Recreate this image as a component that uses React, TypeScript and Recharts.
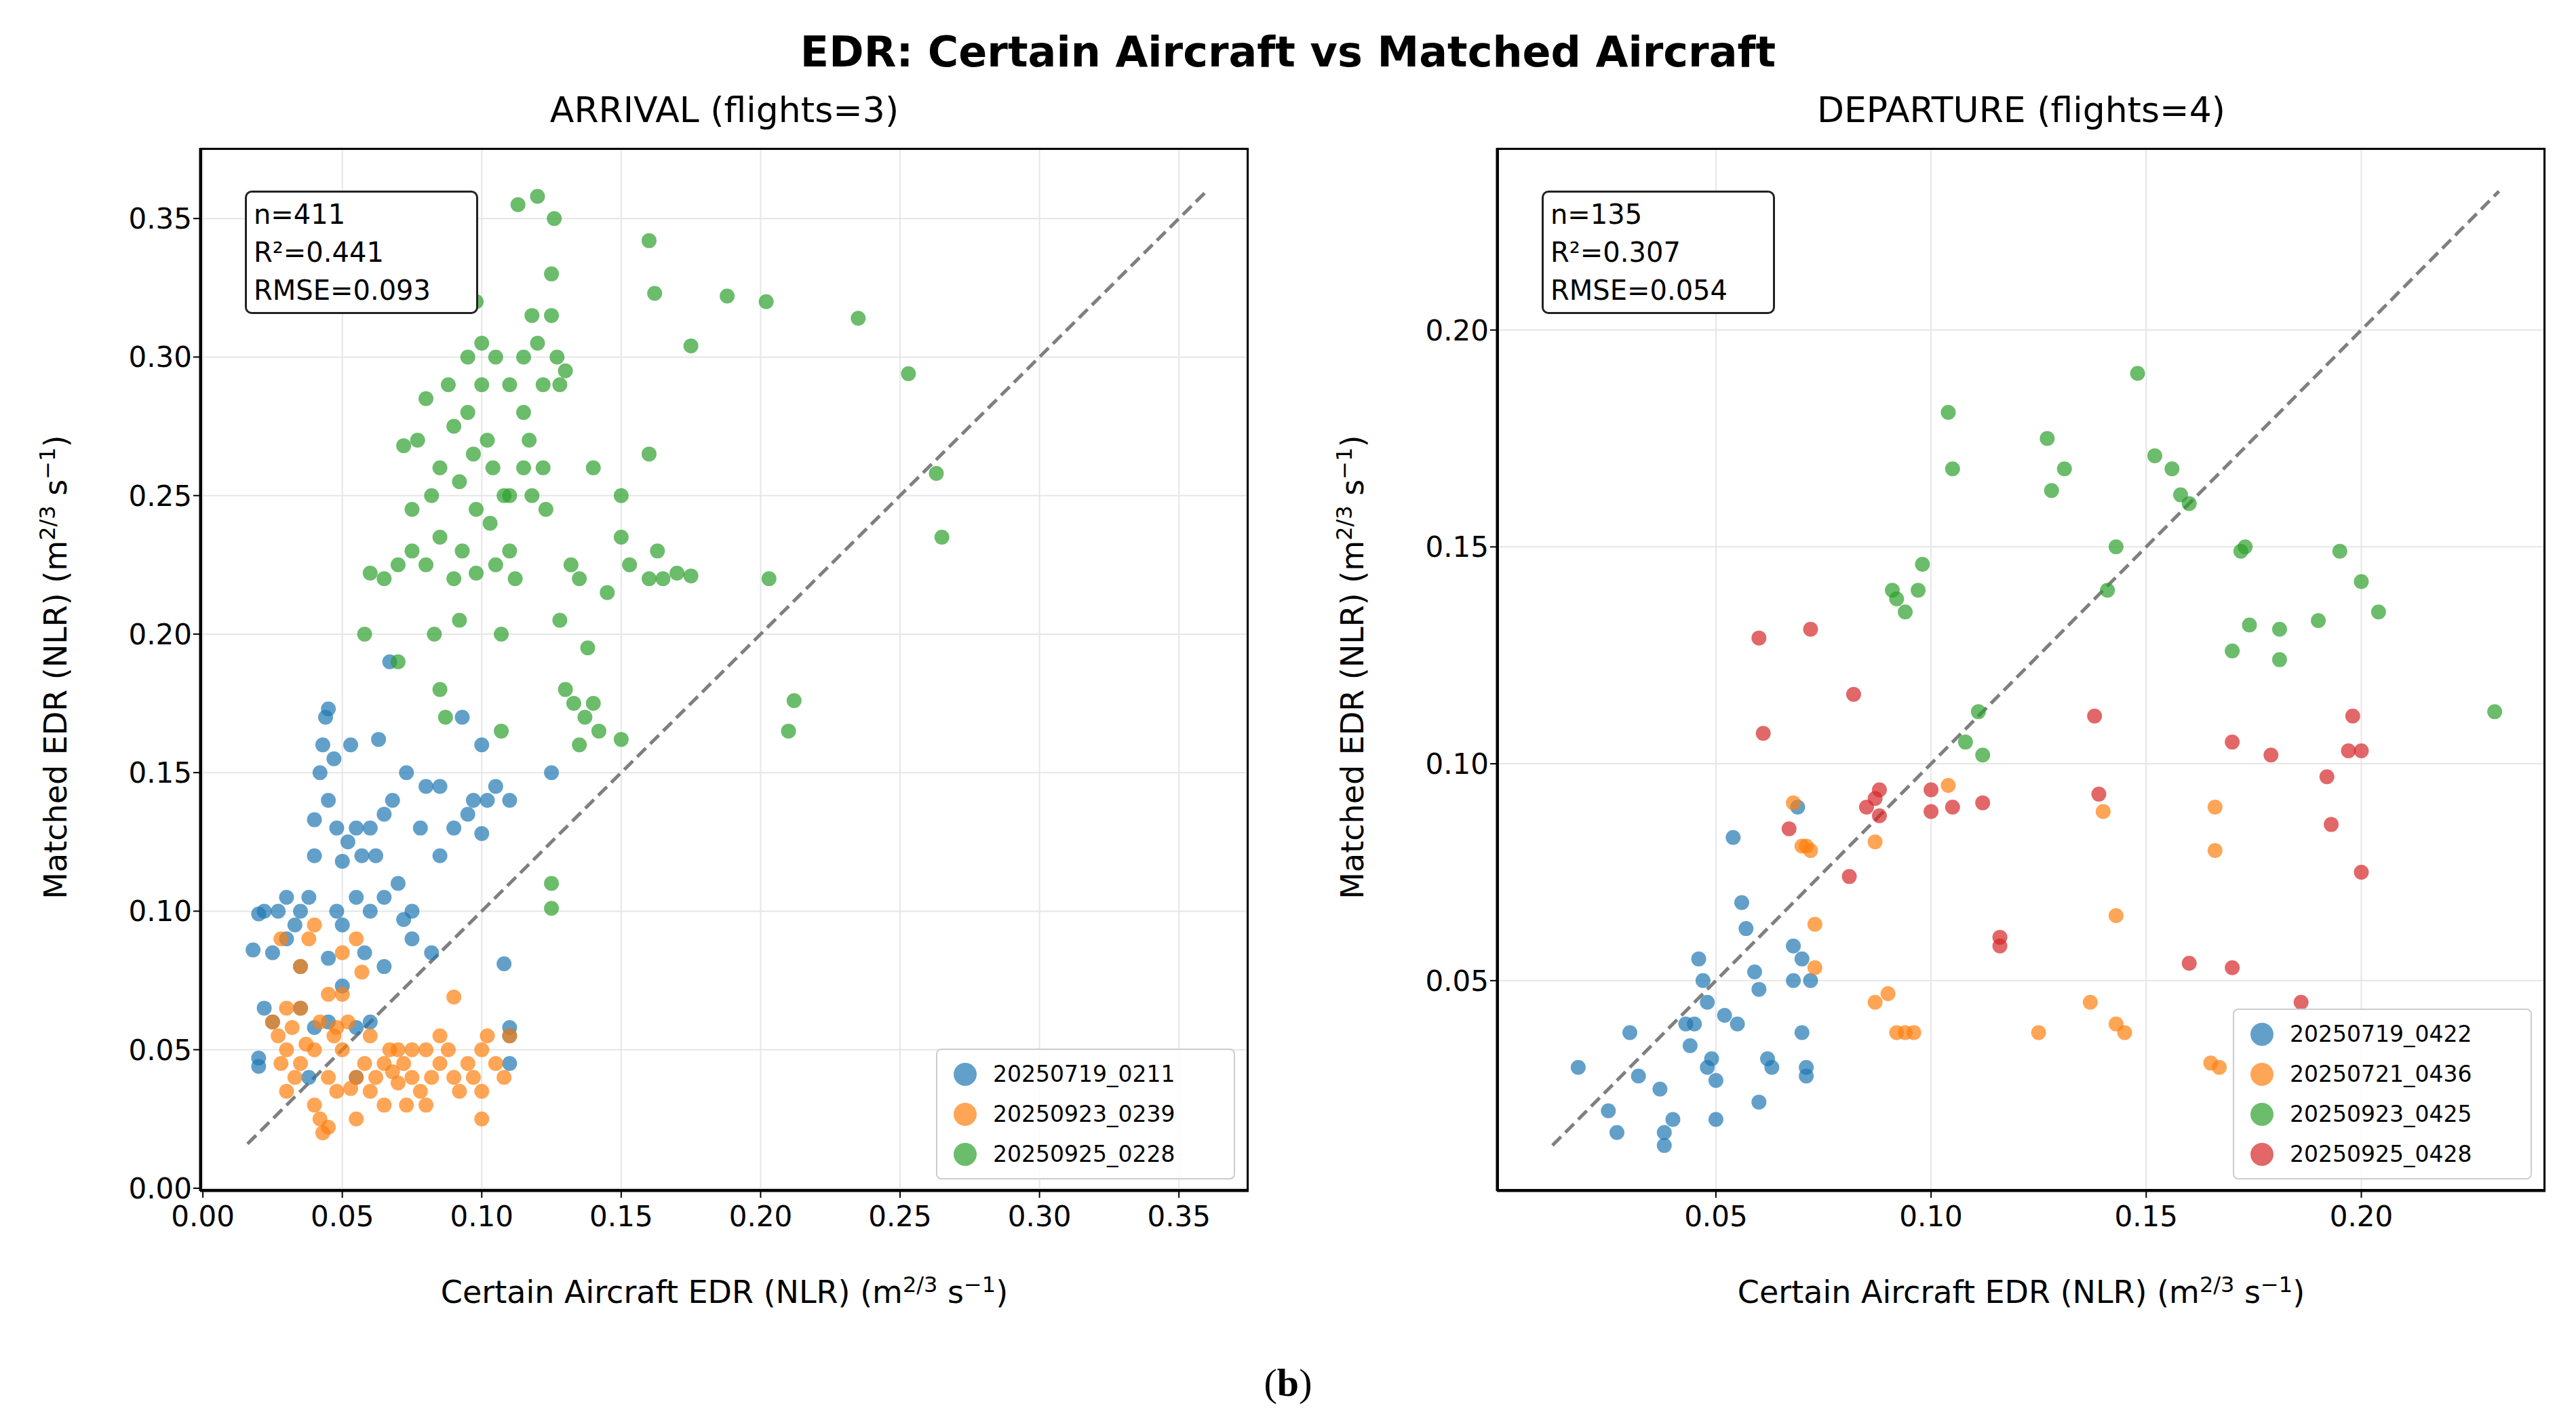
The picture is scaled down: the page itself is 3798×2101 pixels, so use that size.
import React from "react";
import { ScatterChart, Scatter, XAxis, YAxis, CartesianGrid, ReferenceLine } from "recharts";

type P = [number, number];

const arrBlue: P[] = [[0.02,0.099],[0.022,0.1],[0.018,0.086],[0.02,0.047],[0.02,0.044],[0.022,0.065],[0.025,0.06],[0.025,0.085],[0.027,0.1],[0.03,0.105],[0.03,0.09],[0.033,0.095],[0.035,0.1],[0.035,0.08],[0.038,0.105],[0.04,0.12],[0.04,0.133],[0.042,0.15],[0.043,0.16],[0.044,0.17],[0.045,0.173],[0.045,0.14],[0.047,0.155],[0.048,0.13],[0.048,0.1],[0.05,0.118],[0.05,0.095],[0.052,0.125],[0.053,0.16],[0.055,0.13],[0.055,0.105],[0.057,0.12],[0.058,0.085],[0.06,0.13],[0.06,0.1],[0.062,0.12],[0.063,0.162],[0.065,0.135],[0.065,0.105],[0.067,0.19],[0.068,0.14],[0.07,0.11],[0.072,0.097],[0.073,0.15],[0.075,0.1],[0.078,0.13],[0.08,0.145],[0.082,0.085],[0.085,0.145],[0.085,0.12],[0.09,0.13],[0.093,0.17],[0.095,0.135],[0.097,0.14],[0.1,0.16],[0.1,0.128],[0.102,0.14],[0.105,0.145],[0.108,0.081],[0.11,0.14],[0.11,0.058],[0.11,0.055],[0.11,0.045],[0.125,0.15],[0.06,0.06],[0.055,0.058],[0.045,0.083],[0.05,0.073],[0.035,0.065],[0.04,0.058],[0.065,0.08],[0.075,0.09],[0.045,0.06],[0.038,0.04],[0.055,0.04]];
const arrOrange: P[] = [[0.025,0.06],[0.027,0.055],[0.028,0.045],[0.03,0.05],[0.03,0.065],[0.03,0.035],[0.032,0.058],[0.033,0.04],[0.035,0.045],[0.035,0.065],[0.037,0.052],[0.04,0.03],[0.04,0.05],[0.042,0.025],[0.043,0.02],[0.045,0.022],[0.045,0.04],[0.047,0.055],[0.048,0.035],[0.05,0.07],[0.05,0.05],[0.052,0.06],[0.053,0.036],[0.055,0.09],[0.055,0.04],[0.057,0.078],[0.058,0.045],[0.06,0.035],[0.06,0.055],[0.062,0.04],[0.065,0.045],[0.067,0.05],[0.07,0.038],[0.07,0.05],[0.072,0.045],[0.075,0.05],[0.075,0.04],[0.078,0.035],[0.08,0.05],[0.082,0.04],[0.085,0.045],[0.085,0.055],[0.088,0.05],[0.09,0.069],[0.09,0.04],[0.092,0.035],[0.095,0.045],[0.097,0.04],[0.1,0.05],[0.1,0.035],[0.102,0.055],[0.105,0.045],[0.108,0.04],[0.11,0.055],[0.035,0.08],[0.038,0.09],[0.04,0.095],[0.045,0.07],[0.028,0.09],[0.05,0.085],[0.065,0.03],[0.055,0.025],[0.08,0.03],[0.1,0.025],[0.042,0.06],[0.048,0.058],[0.068,0.042],[0.073,0.03]];
const arrGreen: P[] = [[0.07,0.19],[0.058,0.2],[0.065,0.22],[0.07,0.225],[0.075,0.23],[0.075,0.245],[0.072,0.268],[0.077,0.27],[0.08,0.285],[0.082,0.25],[0.085,0.26],[0.085,0.235],[0.083,0.2],[0.085,0.18],[0.087,0.17],[0.088,0.29],[0.09,0.275],[0.092,0.255],[0.093,0.23],[0.095,0.3],[0.095,0.28],[0.097,0.265],[0.098,0.245],[0.1,0.305],[0.1,0.29],[0.102,0.27],[0.103,0.24],[0.104,0.26],[0.105,0.3],[0.105,0.225],[0.107,0.2],[0.107,0.165],[0.108,0.25],[0.11,0.29],[0.11,0.23],[0.112,0.22],[0.113,0.355],[0.115,0.3],[0.115,0.28],[0.117,0.27],[0.118,0.25],[0.12,0.358],[0.12,0.305],[0.122,0.29],[0.122,0.26],[0.123,0.245],[0.125,0.33],[0.125,0.315],[0.126,0.35],[0.127,0.3],[0.128,0.29],[0.128,0.205],[0.13,0.18],[0.132,0.225],[0.133,0.175],[0.135,0.16],[0.135,0.22],[0.137,0.17],[0.138,0.195],[0.14,0.26],[0.14,0.175],[0.142,0.165],[0.145,0.215],[0.15,0.25],[0.15,0.235],[0.15,0.162],[0.153,0.225],[0.16,0.342],[0.16,0.265],[0.16,0.22],[0.162,0.323],[0.163,0.23],[0.165,0.22],[0.17,0.222],[0.175,0.221],[0.175,0.304],[0.188,0.322],[0.202,0.32],[0.203,0.22],[0.21,0.165],[0.212,0.176],[0.235,0.314],[0.253,0.294],[0.263,0.258],[0.265,0.235],[0.125,0.11],[0.125,0.101],[0.098,0.222],[0.08,0.225],[0.092,0.205],[0.09,0.22],[0.06,0.222],[0.11,0.25],[0.115,0.26],[0.13,0.295],[0.118,0.315],[0.098,0.32]];

const depBlue: P[] = [[0.018,0.03],[0.025,0.02],[0.027,0.015],[0.03,0.038],[0.032,0.028],[0.037,0.025],[0.038,0.015],[0.038,0.012],[0.04,0.018],[0.045,0.04],[0.046,0.055],[0.047,0.05],[0.048,0.045],[0.049,0.032],[0.05,0.027],[0.05,0.018],[0.052,0.042],[0.054,0.083],[0.056,0.068],[0.057,0.062],[0.059,0.052],[0.06,0.048],[0.06,0.022],[0.062,0.032],[0.063,0.03],[0.068,0.058],[0.068,0.05],[0.069,0.09],[0.07,0.055],[0.07,0.038],[0.071,0.03],[0.071,0.028],[0.072,0.05],[0.044,0.035],[0.043,0.04],[0.055,0.04],[0.048,0.03]];
const depOrange: P[] = [[0.068,0.091],[0.07,0.081],[0.072,0.08],[0.073,0.063],[0.073,0.053],[0.087,0.082],[0.087,0.045],[0.09,0.047],[0.092,0.038],[0.094,0.038],[0.096,0.038],[0.104,0.095],[0.125,0.038],[0.137,0.045],[0.14,0.089],[0.143,0.065],[0.143,0.04],[0.145,0.038],[0.166,0.09],[0.166,0.08],[0.165,0.031],[0.167,0.03],[0.071,0.081]];
const depGreen: P[] = [[0.091,0.14],[0.092,0.138],[0.094,0.135],[0.097,0.14],[0.098,0.146],[0.104,0.181],[0.105,0.168],[0.108,0.105],[0.111,0.112],[0.112,0.102],[0.127,0.175],[0.128,0.163],[0.131,0.168],[0.141,0.14],[0.143,0.15],[0.148,0.19],[0.152,0.171],[0.156,0.168],[0.158,0.162],[0.16,0.16],[0.17,0.126],[0.172,0.149],[0.173,0.15],[0.174,0.132],[0.181,0.131],[0.181,0.124],[0.19,0.133],[0.195,0.149],[0.2,0.142],[0.204,0.135],[0.231,0.112]];
const depRed: P[] = [[0.06,0.129],[0.061,0.107],[0.067,0.085],[0.072,0.131],[0.081,0.074],[0.082,0.116],[0.085,0.09],[0.087,0.092],[0.088,0.094],[0.088,0.088],[0.1,0.094],[0.1,0.089],[0.105,0.09],[0.112,0.091],[0.116,0.06],[0.116,0.058],[0.138,0.111],[0.139,0.093],[0.16,0.054],[0.17,0.053],[0.17,0.105],[0.179,0.102],[0.186,0.045],[0.192,0.097],[0.193,0.086],[0.197,0.103],[0.198,0.111],[0.2,0.103],[0.2,0.075]];

const arrTicks = [0, 0.05, 0.1, 0.15, 0.2, 0.25, 0.3, 0.35];
const depTicks = [0.05, 0.1, 0.15, 0.2];
const arrNames = ["20250719_0211", "20250923_0239", "20250925_0228"];
const depNames = ["20250719_0422", "20250721_0436", "20250923_0425", "20250925_0428"];
const COLORS = ["#1f77b4", "#ff7f0e", "#2ca02c", "#d62728"];

const FONT = "DejaVu Sans, sans-serif";
const toObj = (a: P[]) => a.map(([x, y]) => ({ x, y }));
const dot = (color: string) => (p: any) => (
  <circle cx={p.cx} cy={p.cy} r={11} fill={color} fillOpacity={0.7} stroke="none" />
);

function Panel({ left, series, names, ticks, domain, diag }: any) {
  const W = 1900, H = 1900;
  return (
    <div style={{ position: "absolute", left, top: 0 }}>
      <ScatterChart width={W} height={H} margin={{ top: 218, left: 165, right: 59, bottom: 84 }}>
        <CartesianGrid stroke="#e6e6e6" strokeWidth={2} />
        <XAxis type="number" dataKey="x" domain={domain.x} ticks={ticks.x} allowDataOverflow height={60}
          tickFormatter={(v: number) => v.toFixed(2)} tick={{ fill: "#000", fontSize: 42, fontFamily: FONT, dy: 10 }}
          tickSize={10} tickLine={{ stroke: "#000", strokeWidth: 2 }} axisLine={{ stroke: "#000", strokeWidth: 3 }} />
        <YAxis type="number" dataKey="y" domain={domain.y} ticks={ticks.y} allowDataOverflow width={130}
          tickFormatter={(v: number) => v.toFixed(2)} tick={{ fill: "#000", fontSize: 42, fontFamily: FONT }}
          tickSize={10} tickLine={{ stroke: "#000", strokeWidth: 2 }} axisLine={{ stroke: "#000", strokeWidth: 3 }} />
        {series.map((s: P[], i: number) => (
          <Scatter key={i} data={toObj(s)} shape={dot(COLORS[i])} isAnimationActive={false} />
        ))}
        <ReferenceLine segment={[{ x: diag[0], y: diag[0] }, { x: diag[1], y: diag[1] }]}
          stroke="#7f7f7f" strokeWidth={5} strokeDasharray="18 9" ifOverflow="visible" />
      </ScatterChart>
      <div style={{ position: "absolute", left: 295, top: 218, width: 1546, height: 1538, border: "3px solid #000", boxSizing: "border-box", pointerEvents: "none" }} />
      <div style={{ position: "absolute", left: 361, top: 281, width: 344, border: "3px solid #222", borderRadius: 10, background: "#fff", padding: "4px 10px", boxSizing: "border-box", fontFamily: FONT, fontSize: 40, lineHeight: "56px" }}>
        {names.stats.map((t: string) => <div key={t}>{t}</div>)}
      </div>
      <div style={{ position: "absolute", right: W - 1821, bottom: H - 1739, width: 441, border: "2px solid #ccc", borderRadius: 8, background: "rgba(255,255,255,0.85)", padding: "6px 12px", boxSizing: "border-box", fontFamily: FONT, fontSize: 33, lineHeight: "59px" }}>
        {names.list.map((n: string, i: number) => (
          <div key={n} style={{ display: "flex", alignItems: "center" }}>
            <span style={{ width: 34, height: 34, borderRadius: 17, background: COLORS[i], opacity: 0.7, marginRight: 24, marginLeft: 12 }} />{n}
          </div>
        ))}
      </div>
      <div style={{ position: "absolute", left: 295, width: 1546, top: 132, textAlign: "center", fontFamily: FONT, fontSize: 52 }}>{names.title}</div>
      <div style={{ position: "absolute", left: 295, width: 1546, top: 1875, textAlign: "center", fontFamily: FONT, fontSize: 46 }}>
        Certain Aircraft EDR (NLR) (m<sup style={{ fontSize: 32 }}>2/3</sup> s<sup style={{ fontSize: 32 }}>−1</sup>)
      </div>
      <div style={{ position: "absolute", left: 80 - 800, width: 1600, top: 955, textAlign: "center", fontFamily: FONT, fontSize: 46, transform: "rotate(-90deg)" }}>
        Matched EDR (NLR) (m<sup style={{ fontSize: 32 }}>2/3</sup> s<sup style={{ fontSize: 32 }}>−1</sup>)
      </div>
    </div>
  );
}

export default function App() {
  return (
    <div style={{ position: "absolute", left: 0, top: 0, width: 3798, height: 2101, background: "#fff" }}>
      <div style={{ position: "absolute", left: 0, width: 3798, top: 40, textAlign: "center", fontFamily: FONT, fontSize: 62, fontWeight: "bold" }}>
        EDR: Certain Aircraft vs Matched Aircraft
      </div>
      <Panel left={0} series={[arrBlue, arrOrange, arrGreen]}
        names={{ list: arrNames, title: "ARRIVAL (flights=3)", stats: ["n=411", "R²=0.441", "RMSE=0.093"] }}
        ticks={{ x: arrTicks, y: arrTicks }} domain={{ x: [-0.001, 0.375], y: [-0.001, 0.3755] }} diag={[0.016, 0.36]} />
      <Panel left={1912} series={[depBlue, depOrange, depGreen, depRed]}
        names={{ list: depNames, title: "DEPARTURE (flights=4)", stats: ["n=135", "R²=0.307", "RMSE=0.054"] }}
        ticks={{ x: depTicks, y: depTicks }} domain={{ x: [-0.0009, 0.2428], y: [0.0015, 0.242] }} diag={[0.012, 0.232]} />
      <div style={{ position: "absolute", left: 0, width: 3798, top: 2005, textAlign: "center", fontFamily: "Liberation Serif, serif", fontSize: 58 }}>
        (<b>b</b>)
      </div>
    </div>
  );
}
